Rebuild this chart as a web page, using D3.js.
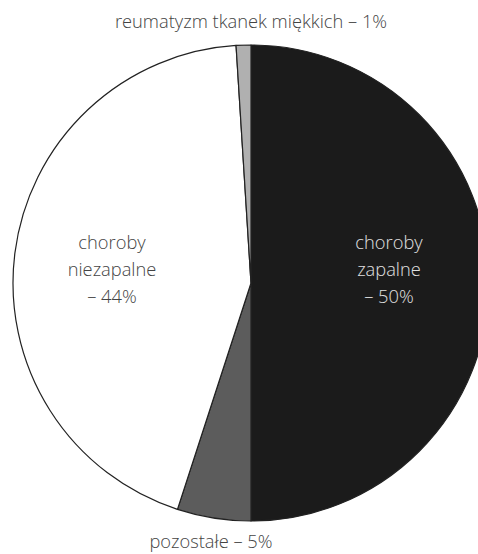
<!DOCTYPE html>
<html>
<head>
<meta charset="utf-8">
<script src="https://cdn.jsdelivr.net/npm/d3@7"></script>
<style>
  html, body { margin: 0; padding: 0; background: #fff; }
  svg { display: block; }
  text { font-family: "Open Sans", "Noto Sans", sans-serif; font-weight: 300; }
</style>
</head>
<body>
<svg id="chart" width="478" height="554"></svg>
<script>
// Struktura rozpoznań (procent)
const categories = ["choroby zapalne", "pozostałe", "choroby niezapalne", "reumatyzm tkanek miękkich"];
const values = [50, 5, 44, 1];
const colors = ["#1b1b1b", "#5c5c5c", "#ffffff", "#b0b0b0"];

const svg = d3.select("#chart");
const cx = 251, cy = 283, r = 238;
const fs = 18.3;

const pie = d3.pie().sort(null).value(d => d)(values);
const arc = d3.arc().innerRadius(0).outerRadius(r);

const g = svg.append("g").attr("transform", `translate(${cx},${cy})`);

g.selectAll("path")
  .data(pie)
  .join("path")
  .attr("d", arc)
  .attr("fill", (d, i) => colors[i])
  .attr("stroke", "#222")
  .attr("stroke-width", 1.2)
  .attr("stroke-linejoin", "round");

// Etykiety wewnątrz dużych wycinków
function multiLabel(x, y, lines, fill) {
  const t = svg.append("text")
    .attr("x", x).attr("y", y)
    .attr("text-anchor", "middle")
    .attr("font-size", fs)
    .attr("fill", fill);
  lines.forEach((l, i) => {
    t.append("tspan").attr("x", x).attr("dy", i === 0 ? 0 : 27).text(l);
  });
}

multiLabel(389, 249, ["choroby", "zapalne", `– ${values[0]}%`], "#e0e0e0");
multiLabel(112, 249, ["choroby", "niezapalne", `– ${values[2]}%`], "#444");

// Etykiety zewnętrzne małych wycinków
svg.append("text")
  .attr("x", 251).attr("y", 28)
  .attr("text-anchor", "middle")
  .attr("font-size", fs)
  .attr("fill", "#444")
  .text(`${categories[3]} – ${values[3]}%`);

svg.append("text")
  .attr("x", 211).attr("y", 548)
  .attr("text-anchor", "middle")
  .attr("font-size", fs)
  .attr("fill", "#444")
  .text(`${categories[1]} – ${values[1]}%`);
</script>
</body>
</html>
